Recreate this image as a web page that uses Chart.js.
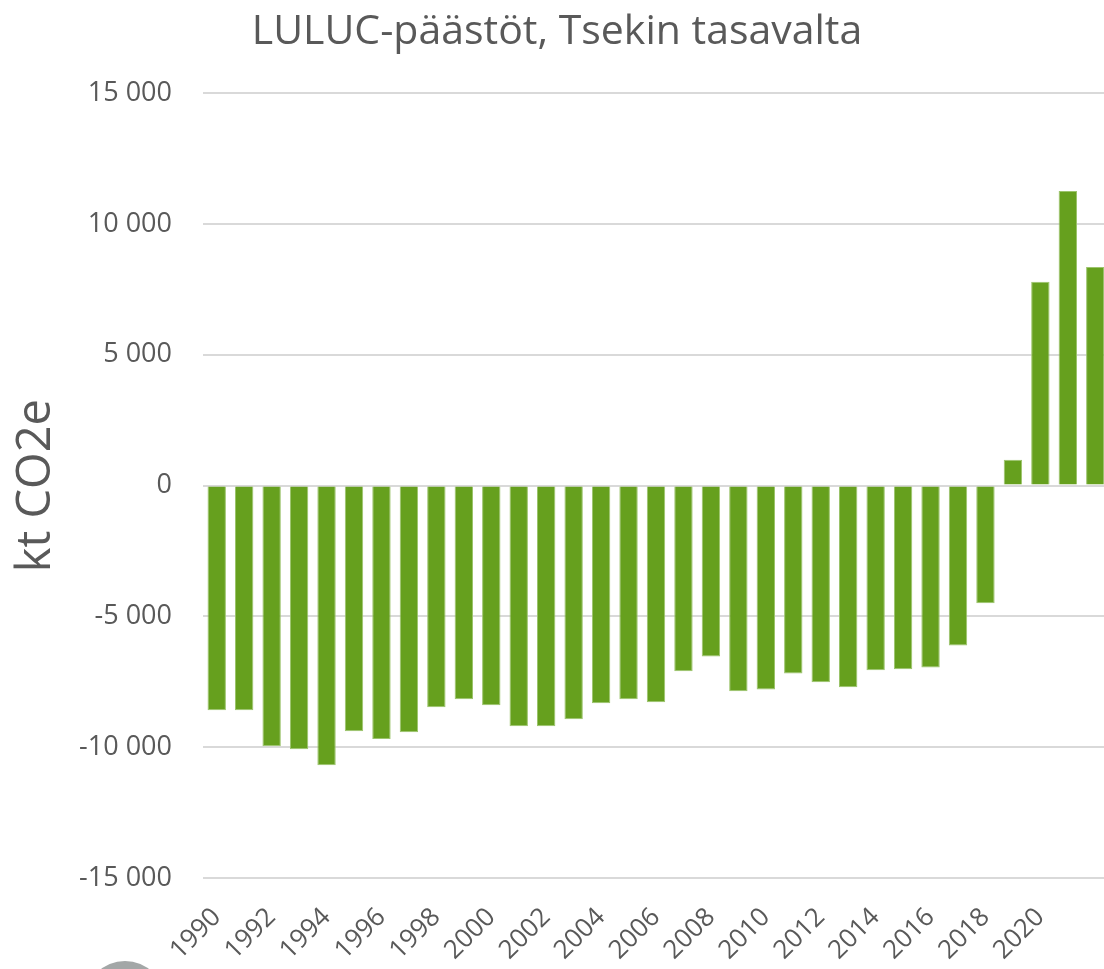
<!DOCTYPE html>
<html>
<head>
<meta charset="utf-8">
<script src="https://cdn.jsdelivr.net/npm/chart.js@4"></script>
<style>
  body { margin: 0; overflow: hidden; background: #fff; }
  #wrap { position: relative; width: 1104px; height: 969px; overflow: hidden; }
  #logo { position: absolute; left: 85px; top: 961px; width: 80px; height: 80px; border-radius: 50%; background: #a3a7a7; }
</style>
</head>
<body>
<div id="wrap">
  <canvas id="lulucChart" width="1116" height="969"></canvas>
  <div id="logo"></div>
</div>
<script>
const years = [1990, 1991, 1992, 1993, 1994, 1995, 1996, 1997, 1998, 1999,
  2000, 2001, 2002, 2003, 2004, 2005, 2006, 2007, 2008, 2009,
  2010, 2011, 2012, 2013, 2014, 2015, 2016, 2017, 2018, 2019,
  2020, 2021, 2022];
const emissions = [-8590, -8590, -9960, -10080, -10690, -9390, -9690, -9430, -8470, -8170,
  -8400, -9200, -9200, -8930, -8320, -8170, -8280, -7100, -6530, -7860,
  -7790, -7180, -7520, -7710, -7060, -7020, -6950, -6110, -4500, 990,
  7790, 11260, 8360];
const yTicks = [-15000, -10000, -5000, 0, 5000, 10000, 15000];

const textColor = '#595959';
const fontFamily = "'Open Sans', 'Liberation Sans', sans-serif";

function fmt(v) {
  const s = Math.abs(v).toString().replace(/\B(?=(\d{3})+(?!\d))/g, ' ');
  return (v < 0 ? '-' : '') + s;
}

window.onload = function () {
  const ctx = document.getElementById('lulucChart').getContext('2d');
  new Chart(ctx, {
    type: 'bar',
    data: {
      labels: years.map(String),
      datasets: [{
        label: 'LULUC',
        data: emissions,
        backgroundColor: '#66a01e',
        borderColor: '#9cc46c',
        borderWidth: 1,
        barPercentage: 1,
        categoryPercentage: 0.67
      }]
    },
    options: {
      responsive: false,
      animation: false,
      devicePixelRatio: 1,
      layout: { padding: { left: 5, right: 7, top: 8, bottom: 0 } },
      plugins: {
        legend: { display: false },
        tooltip: { enabled: false },
        title: {
          display: true,
          text: 'LULUC-päästöt, Tsekin tasavalta',
          color: textColor,
          font: { family: fontFamily, size: 41, weight: 'normal' },
          padding: { top: 0, bottom: 36 }
        }
      },
      scales: {
        x: {
          grid: { display: false },
          border: { display: false },
          afterFit: function (axis) {
            axis.height = 91;
            axis.paddingLeft = 0;
            axis.paddingRight = 0;
          },
          ticks: {
            autoSkip: false,
            maxRotation: 45,
            minRotation: 45,
            color: textColor,
            padding: 16,
            font: { family: fontFamily, size: 26 },
            callback: function (val, i) {
              return (i % 2 === 0 && i < years.length - 1) ? years[i] : '';
            }
          }
        },
        y: {
          min: yTicks[0],
          max: yTicks[yTicks.length - 1],
          afterBuildTicks: function (axis) {
            axis.ticks = yTicks.map(v => ({ value: v }));
          },
          afterFit: function (axis) {
            axis.width = 198;
          },
          grid: { color: '#d9d9d9', lineWidth: 2, drawTicks: false },
          border: { display: false },
          ticks: {
            color: textColor,
            padding: 31,
            font: { family: fontFamily, size: 27 },
            callback: v => fmt(v)
          },
          title: {
            display: true,
            text: 'kt CO2e',
            color: textColor,
            font: { family: fontFamily, size: 47 },
            padding: { top: 3, bottom: 0 }
          }
        }
      }
    }
  });
};
</script>
</body>
</html>
